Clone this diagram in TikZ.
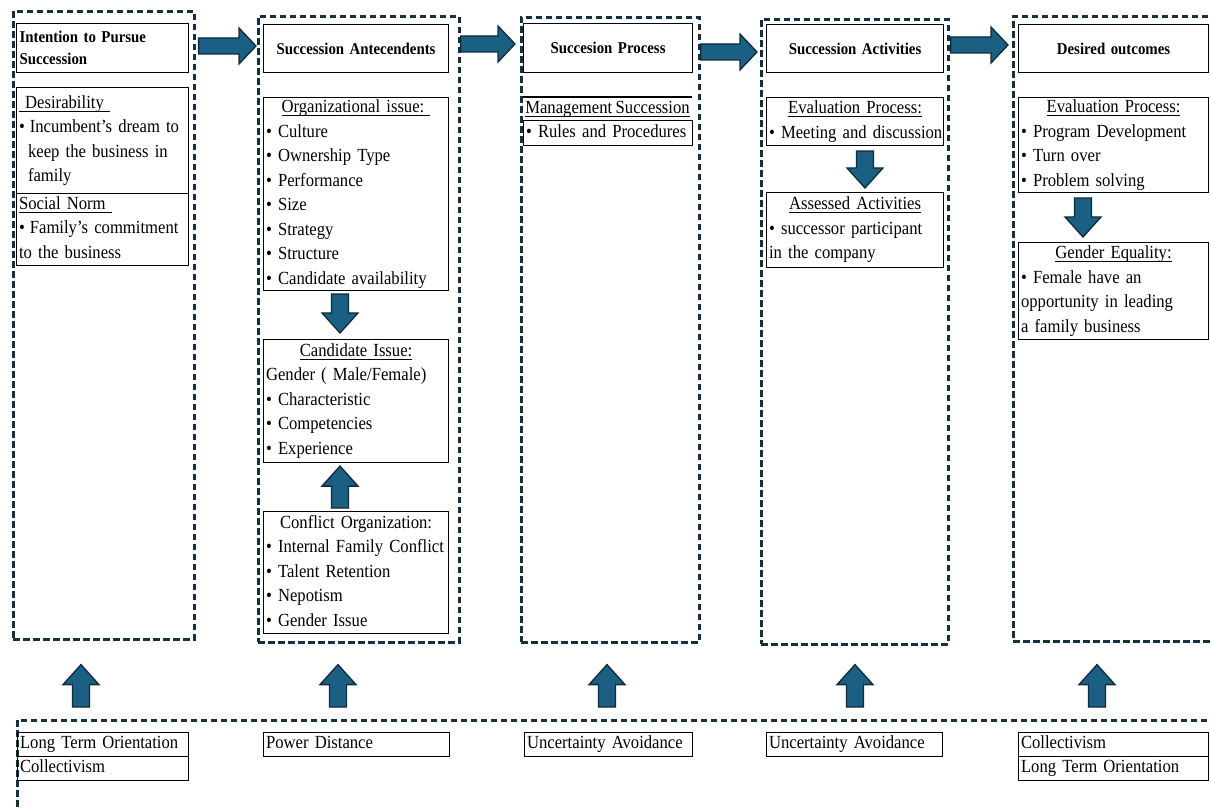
\documentclass[tikz,border=0pt]{standalone}
\usepackage{fontspec}
\setmainfont{Liberation Serif}[FakeStretch=0.9,WordSpace=0.85]
\usetikzlibrary{calc}
\definecolor{navy}{HTML}{17303F}
\definecolor{arrowfill}{HTML}{1B5F82}
\definecolor{arrowline}{HTML}{0F2B3C}
\newcommand\fs{\fontsize{18.5}{24.5}\selectfont}
\newcommand\tfs{\fontsize{16.5}{21.5}\selectfont\bfseries}
\newcommand\ulx[1]{\setbox0\hbox{#1}\rlap{\rule[-3.2pt]{\wd0}{0.9pt}}\box0}
\newcommand\sL{\vphantom{Ay}}
\newcommand\ctr[1]{\makebox[\linewidth]{#1}}
% vertical block arrows: from node, to node, x centre, gap at start, gap at tip
\newcommand\darr[5]{\path[barrow] let \p1=(#1.south), \p2=(#2.north), \p3=(#3,0) in
 (\x3-8.5pt,\y1-#4pt) -- (\x3+8.5pt,\y1-#4pt) -- (\x3+8.5pt,\y2+#5pt+20pt) -- (\x3+18pt,\y2+#5pt+20pt) -- (\x3,\y2+#5pt) -- (\x3-18pt,\y2+#5pt+20pt) -- (\x3-8.5pt,\y2+#5pt+20pt) -- cycle;}
\newcommand\uarr[5]{\path[barrow] let \p1=(#1.north), \p2=(#2.south), \p3=(#3,0) in
 (\x3-8.5pt,\y1+#4pt) -- (\x3+8.5pt,\y1+#4pt) -- (\x3+8.5pt,\y2-#5pt-20pt) -- (\x3+18pt,\y2-#5pt-20pt) -- (\x3,\y2-#5pt) -- (\x3-18pt,\y2-#5pt-20pt) -- (\x3-8.5pt,\y2-#5pt-20pt) -- cycle;}
% horizontal block arrows: from node, to node, y centre, gap at start, gap at tip
\newcommand\rarr[5]{\path[barrow] let \p1=(#1.east), \p2=(#2.west), \p3=(0,#3) in
 (\x1+#4pt,\y3+8pt) -- (\x2-#5pt-17pt,\y3+8pt) -- (\x2-#5pt-17pt,\y3+18pt) -- (\x2-#5pt,\y3) -- (\x2-#5pt-17pt,\y3-18pt) -- (\x2-#5pt-17pt,\y3-8pt) -- (\x1+#4pt,\y3-8pt) -- cycle;}
\begin{document}
\begin{tikzpicture}[x=1pt,y=-1pt,
  dbox/.style={draw=navy, line width=2.6pt, dash pattern=on 6.5pt off 3.5pt, anchor=north west, inner sep=0pt},
  cbox/.style={draw=black, line width=1.1pt, anchor=north west, inner xsep=2.5pt, inner ysep=0pt, align=left, font=\fs},
  sbox/.style={cbox, text height=12.5pt, text depth=4pt},
  tbox/.style={draw=black, line width=1.1pt, anchor=north west, inner xsep=3pt, inner ysep=0pt, font=\tfs},
  barrow/.style={fill=arrowfill, draw=arrowline, line width=1.3pt, line join=miter}]
\useasboundingbox (0,0) rectangle (1211,810);
\clip (0,0) rectangle (1211,810);

% dashed column frames
\node[dbox, minimum width=181pt, minimum height=628pt] (c1) at (12,10) {};
\node[dbox, minimum width=201pt, minimum height=626pt] (c2) at (257,15) {};
\node[dbox, minimum width=178pt, minimum height=625pt] (c3) at (520,16) {};
\node[dbox, minimum width=187pt, minimum height=625pt] (c4) at (760,18) {};
\node[dbox, minimum width=230pt, minimum height=625pt] (c5) at (1012,15) {};
\node[dbox, minimum width=1230pt, minimum height=150pt] (bot) at (16,719) {};

% titles
\node[tbox, text width=166pt, minimum height=49pt, align=left] (t1) at (16,23) {Intention to Pursue\\Succession};
\node[tbox, text width=179pt, minimum height=48pt, align=center] (t2) at (263,24) {Succession Antecendents};
\node[tbox, text width=163pt, minimum height=49pt, align=center] (t3) at (523,23) {Succesion Process};
\node[tbox, text width=171pt, minimum height=48pt, align=center] (t4) at (766,24) {Succession Activities};
\node[tbox, text width=184pt, minimum height=48pt, align=center] (t5) at (1018,24) {Desired outcomes};

% column 1
\node[cbox, text width=167pt, minimum height=106pt] (d1) at (16,87)
 {\sL\ulx{\ Desirability\ }\\
  \mbox{•\hspace{5pt}Incumbent's dream to}\\
  \mbox{\hspace*{9pt}keep the business in}\\
  \hspace*{9pt}family\sL};
\node[cbox, text width=167pt, minimum height=72pt] (s1) at (16,193)
 {\sL\ulx{Social Norm\ }\\
  \mbox{•\hspace{5pt}Family's commitment}\\
  to the business\sL};

% column 2
\node[cbox, text width=180pt, minimum height=193pt] (org) at (263,97)
 {\sL\ctr{\ulx{Organizational issue:\ }}\\
  • Culture\\
  • Ownership Type\\
  • Performance\\
  • Size\\
  • Strategy\\
  • Structure\\
  \mbox{• Candidate availability}\sL};
\node[cbox, text width=180pt, minimum height=123pt] (cand) at (263,339)
 {\sL\ctr{\ulx{Candidate Issue:}}\\
  \mbox{Gender ( Male/Female)}\\
  • Characteristic\\
  • Competencies\\
  • Experience\sL};
\node[cbox, text width=180pt, minimum height=122pt] (conf) at (263,511)
 {\sL\ctr{Conflict Organization:}\\
  \mbox{• Internal Family Conflict}\\
  • Talent Retention\\
  • Nepotism\\
  • Gender Issue\sL};

% column 3
\coordinate (msl) at (523,97);
\coordinate (msr) at (692,97);
\draw[line width=1.1pt] (msl) -- (msr);
\node[font=\fs, anchor=base, inner sep=0pt] (ms) at (607.5,114) {\ulx{Management Succession}};
\node[sbox, text width=164pt, minimum height=25pt] (rp) at (523,120) {\mbox{• Rules and Procedures}};

% column 4
\node[cbox, text width=172pt, minimum height=48pt] (ev4) at (766,97)
 {\sL\ctr{\ulx{Evaluation Process:}}\\
  \mbox{• Meeting and discussion}\sL};
\node[cbox, text width=172pt, minimum height=75pt] (as4) at (766,192)
 {\sL\ctr{\ulx{Assessed Activities}}\\
  \mbox{• successor participant}\\
  in the company\sL};

% column 5
\node[cbox, text width=185pt, minimum height=95pt] (ev5) at (1018,97)
 {\sL\ctr{\ulx{Evaluation Process:}}\\
  \mbox{• Program Development}\\
  • Turn over\\
  • Problem solving\sL};
\node[cbox, text width=185pt, minimum height=97pt] (ge5) at (1018,242)
 {\sL\ctr{\ulx{Gender Equality:}}\\
  • Female have an\\
  \mbox{opportunity in leading}\\
  a family business\sL};

% bottom row
\node[sbox, text width=166pt, minimum height=24pt] (b1a) at (17,732) {\mbox{Long Term Orientation}};
\node[sbox, text width=166pt, minimum height=24pt] (b1b) at (17,756) {Collectivism};
\node[sbox, text width=181pt, minimum height=24pt] (b2) at (263,732) {Power Distance};
\node[sbox, text width=163pt, minimum height=24pt] (b3) at (524,732) {\mbox{Uncertainty Avoidance}};
\node[sbox, text width=171pt, minimum height=24pt] (b4) at (766,732) {\mbox{Uncertainty Avoidance}};
\node[sbox, text width=185pt, minimum height=24pt] (b5a) at (1018,732) {Collectivism};
\node[sbox, text width=185pt, minimum height=24pt] (b5b) at (1018,756) {\mbox{Long Term Orientation}};

% horizontal arrows between columns
\rarr{c1}{c2}{46}{3}{1}
\rarr{c2}{c3}{44}{0}{5}
\rarr{c3}{c4}{52}{0}{3}
\rarr{c4}{c5}{45}{1}{4}

% arrows inside columns
\darr{org}{cand}{340}{3}{6}
\uarr{conf}{cand}{340}{3}{3}
\darr{ev4}{as4}{865}{5}{4}
\darr{ev5}{ge5}{1083}{5}{5}

% arrows from the bottom region
\uarr{bot}{c1}{81}{12}{24}
\uarr{bot}{c2}{338}{12}{21}
\uarr{bot}{c3}{607}{12}{21}
\uarr{bot}{c4}{855}{12}{19}
\uarr{bot}{c5}{1097}{12}{22}
\end{tikzpicture}
\end{document}
